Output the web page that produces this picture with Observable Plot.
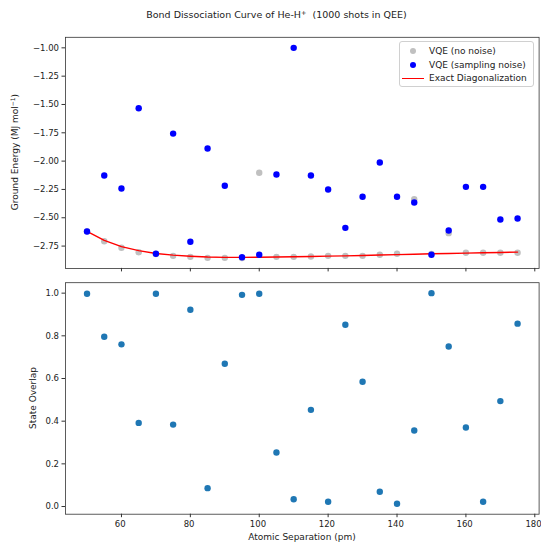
<!DOCTYPE html>
<html>
<head>
<meta charset="utf-8">
<script src="https://cdn.jsdelivr.net/npm/d3@7"></script>
<script src="https://cdn.jsdelivr.net/npm/@observablehq/plot@0.6"></script>
<style>
  html, body { margin: 0; padding: 0; background: #fff; }
  #page { position: relative; width: 541px; height: 543px; overflow: hidden; font-family: "DejaVu Sans", sans-serif; color: #222; }
  #page svg { position: absolute; left: 0; overflow: visible; font-family: "DejaVu Sans", sans-serif; }
  .title { position: absolute; top: 9px; left: 12px; width: 529px; text-align: center; font-size: 9.5px; white-space: nowrap; }
  .title sup { font-size: 6.5px; vertical-align: 3px; line-height: 0; }
  .ylab { position: absolute; font-size: 9px; white-space: nowrap; transform: translate(-50%, -50%) rotate(-90deg); }
  .xlab { position: absolute; font-size: 9px; white-space: nowrap; transform: translate(-50%, -50%); }
  .legend { position: absolute; left: 399px; top: 41px; width: 133px; height: 44px; border: 1px solid #d0d0d0; border-radius: 3px; background: rgba(255,255,255,0.8); font-size: 9px; }
  .legend .row { position: absolute; left: 0; height: 12px; line-height: 12px; white-space: nowrap; }
  .legend .dot { position: absolute; left: 10px; top: 3px; width: 6px; height: 6px; border-radius: 50%; }
  .legend .ln { position: absolute; left: 2px; top: 5.5px; width: 22px; height: 1.4px; background: #ff0000; }
  .legend .txt { position: absolute; left: 29px; top: 0; }
</style>
</head>
<body>
<div id="page"></div>
<script>
// Atomic separations (pm) at which the energies were computed
const separation = [50, 55, 60, 65, 70, 75, 80, 85, 90, 95, 100, 105, 110, 115, 120, 125, 130, 135, 140, 145, 150, 155, 160, 165, 170, 175];

// VQE ground energies without noise (MJ/mol)
const vqeNoNoise = [-2.62, -2.707, -2.765, -2.804, -2.82, -2.836, -2.845, -2.854, -2.854, -2.855, -2.103, -2.845, -2.845, -2.842, -2.836, -2.836, -2.836, -2.827, -2.818, -2.336, -2.82, -2.636, -2.809, -2.809, -2.809, -2.809];

// VQE ground energies with sampling noise, 1000 shots (MJ/mol)
const vqeSampling = [-2.621, -2.127, -2.242, -1.533, -2.818, -1.757, -2.712, -1.889, -2.218, -2.848, -2.827, -2.118, -1.0, -2.127, -2.251, -2.589, -2.315, -2.012, -2.315, -2.365, -2.827, -2.612, -2.227, -2.227, -2.515, -2.507];

// Exact diagonalization ground energies (MJ/mol)
const exactEnergy = [-2.62, -2.70, -2.755, -2.79, -2.815, -2.83, -2.84, -2.847, -2.85, -2.85, -2.848, -2.846, -2.844, -2.842, -2.839, -2.836, -2.833, -2.829, -2.825, -2.822, -2.818, -2.815, -2.812, -2.809, -2.806, -2.803];

// Overlap of the noisy VQE state with the exact ground state
const stateOverlap = [0.997, 0.796, 0.760, 0.392, 0.997, 0.384, 0.922, 0.086, 0.669, 0.992, 0.997, 0.253, 0.034, 0.453, 0.022, 0.852, 0.585, 0.069, 0.013, 0.356, 1.000, 0.750, 0.370, 0.022, 0.494, 0.857];

// Tick values
const xTicks = [60, 80, 100, 120, 140, 160, 180];
const energyTicks = [-1.00, -1.25, -1.50, -1.75, -2.00, -2.25, -2.50, -2.75];
const overlapTicks = [0.0, 0.2, 0.4, 0.6, 0.8, 1.0];

const rows = separation.map((d, i) => ({
  sep: d,
  noNoise: vqeNoNoise[i],
  sampling: vqeSampling[i],
  exact: exactEnergy[i],
  overlap: stateOverlap[i]
}));

const page = document.getElementById("page");
const W = 541;
const xDomain = [43.75, 181.25];
const axisColor = "#333";
const tickFont = 8.5;

function styleSvg(svg, top) {
  svg.style.top = top + "px";
  svg.style.background = "transparent";
  svg.style.fontSize = tickFont + "px";
  svg.style.color = "#222";
  return svg;
}

// Upper panel: ground energy vs separation
const energyPlot = Plot.plot({
  width: W,
  height: 275,
  marginLeft: 65,
  marginRight: 2.4,
  marginTop: 36.8,
  marginBottom: 7.1,
  x: { domain: xDomain },
  y: { domain: [-2.947, -0.907] },
  marks: [
    Plot.axisY({ ticks: energyTicks, tickFormat: d3.format(".2f"), tickSize: 3.5, tickPadding: 3, label: null, stroke: axisColor }),
    Plot.axisX({ ticks: xTicks, tickFormat: () => "", tickSize: 3.5, label: null, stroke: axisColor }),
    Plot.dot(rows, { x: "sep", y: "noNoise", r: 3.2, fill: "#c0c0c0" }),
    Plot.line(rows, { x: "sep", y: "exact", stroke: "#ff0000", strokeWidth: 1.4 }),
    Plot.dot(rows, { x: "sep", y: "sampling", r: 3.2, fill: "#0000ff" }),
    Plot.frame({ stroke: axisColor, strokeWidth: 0.8 })
  ]
});
page.appendChild(styleSvg(energyPlot, 0));

// Lower panel: state overlap vs separation
const overlapPlot = Plot.plot({
  width: W,
  height: 268,
  marginLeft: 65,
  marginRight: 2.4,
  marginTop: 7.2,
  marginBottom: 29.3,
  x: { domain: xDomain },
  y: { domain: [-0.036, 1.049] },
  marks: [
    Plot.axisY({ ticks: overlapTicks, tickFormat: d3.format(".1f"), tickSize: 3.5, tickPadding: 3, label: null, stroke: axisColor }),
    // tick marks and tick labels drawn separately so the labels can sit a hair to the left
    Plot.axisX({ ticks: xTicks, tickFormat: () => "", tickSize: 3.5, label: null, stroke: axisColor }),
    Plot.axisX({ ticks: xTicks, tickFormat: d3.format("d"), tickSize: 0, tickPadding: 6.5, label: null, dx: -1.3 }),
    Plot.dot(rows, { x: "sep", y: "overlap", r: 3.2, fill: "#1f77b4" }),
    Plot.frame({ stroke: axisColor, strokeWidth: 0.8 })
  ]
});
page.appendChild(styleSvg(overlapPlot, 275));

// Text: title, axis labels, legend
page.insertAdjacentHTML("beforeend", `
  <div class="title">Bond Dissociation Curve of He-H<sup>+</sup>&nbsp; (1000 shots in QEE)</div>
  <div class="ylab" style="left:15px; top:152px;">Ground Energy (MJ mol<sup style="font-size:6px;vertical-align:3px;line-height:0">−1</sup>)</div>
  <div class="ylab" style="left:33px; top:398px;">State Overlap</div>
  <div class="xlab" style="left:302px; top:537px;">Atomic Separation (pm)</div>
  <div class="legend">
    <div class="row" style="top:3px;"><span class="dot" style="background:#c0c0c0"></span><span class="txt">VQE (no noise)</span></div>
    <div class="row" style="top:16.5px;"><span class="dot" style="background:#0000ff"></span><span class="txt">VQE (sampling noise)</span></div>
    <div class="row" style="top:30px;"><span class="ln"></span><span class="txt">Exact Diagonalization</span></div>
  </div>
`);
</script>
</body>
</html>
